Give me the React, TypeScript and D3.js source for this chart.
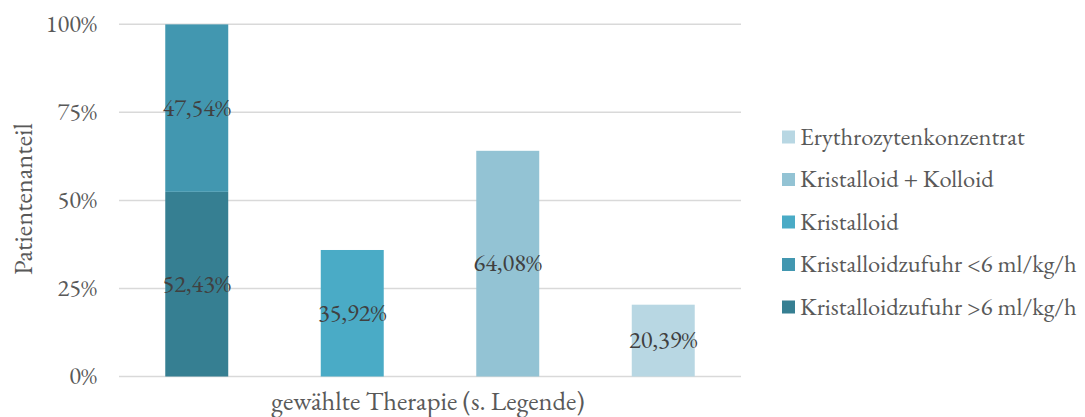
import React from "react";
import * as d3 from "d3";

// Patient share per chosen therapy (percent)
const categories = ["Kristalloidzufuhr", "Kristalloid", "Kristalloid + Kolloid", "Erythrozytenkonzentrat"];
const stackLow = [52.43, 0, 0, 0]; // Kristalloidzufuhr >6 ml/kg/h
const stackHigh = [47.54, 0, 0, 0]; // Kristalloidzufuhr <6 ml/kg/h
const singleValues = [0, 35.92, 64.08, 20.39];
const yTicks = [0, 25, 50, 75, 100];

const legendItems = [
  { label: "Erythrozytenkonzentrat", color: "#b8d7e3" },
  { label: "Kristalloid + Kolloid", color: "#93c3d4" },
  { label: "Kristalloid", color: "#4aabc6" },
  { label: "Kristalloidzufuhr <6 ml/kg/h", color: "#4297b0" },
  { label: "Kristalloidzufuhr >6 ml/kg/h", color: "#367f92" },
];
const singleColors = ["", "#4aabc6", "#93c3d4", "#b8d7e3"];

const W = 1085;
const H = 417;
const FONT = '"EB Garamond", "Liberation Serif", monospace';
const textStyle: React.CSSProperties = { fontFamily: FONT, fontSize: "24.5px" };
const titleStyle: React.CSSProperties = { fontFamily: FONT, fontSize: "26.5px" };

export default function App() {
  const x = d3.scaleBand<string>().domain(categories).range([119, 741]).paddingInner(0.595).paddingOuter(0.2975);
  const y = d3.scaleLinear().domain([0, 100]).range([376.5, 24.3]);
  const fmt = (v: number) => v.toFixed(2).replace(".", ",") + "%";
  const bw = x.bandwidth();

  return (
    <svg width={W} height={H} style={{ position: "absolute", left: 0, top: 0, background: "#fff" }}>
      {yTicks.map((t) => (
        <g key={t}>
          <line x1={119} x2={741} y1={y(t)} y2={y(t)} stroke="#d9d9d9" strokeWidth={1.5} />
          <text x={97} y={y(t)} dy="0.32em" textAnchor="end" style={textStyle} fill="#595959">
            {t}%
          </text>
        </g>
      ))}

      {categories.map((c, i) => {
        const x0 = x(c)!;
        const cx = x0 + bw / 2;
        if (stackLow[i] > 0) {
          const lowTop = y(stackLow[i]);
          const highTop = y(stackLow[i] + stackHigh[i]);
          return (
            <g key={c}>
              <rect x={x0} width={bw} y={lowTop} height={y(0) - lowTop} fill="#367f92" />
              <rect x={x0} width={bw} y={highTop} height={lowTop - highTop} fill="#4297b0" />
              <text x={cx} y={(lowTop + y(0)) / 2} dy="0.32em" textAnchor="middle" style={textStyle} fill="#404040">
                {fmt(stackLow[i])}
              </text>
              <text x={cx} y={(highTop + lowTop) / 2} dy="0.32em" textAnchor="middle" style={textStyle} fill="#404040">
                {fmt(stackHigh[i])}
              </text>
            </g>
          );
        }
        const top = y(singleValues[i]);
        return (
          <g key={c}>
            <rect x={x0} width={bw} y={top} height={y(0) - top} fill={singleColors[i]} />
            <text x={cx} y={(top + y(0)) / 2} dy="0.32em" textAnchor="middle" style={textStyle} fill="#404040">
              {fmt(singleValues[i])}
            </text>
          </g>
        );
      })}

      <text transform="translate(32,199) rotate(-90)" textAnchor="middle" style={titleStyle} fill="#595959">
        Patientenanteil
      </text>
      <text x={428} y={410} textAnchor="middle" style={titleStyle} fill="#595959">
        gewählte Therapie (s. Legende)
      </text>

      {legendItems.map((d, i) => {
        const cy = 137 + i * 42.5;
        return (
          <g key={d.label}>
            <rect x={782} y={cy - 6.5} width={13} height={13} fill={d.color} />
            <text x={800} y={cy} dy="0.32em" style={textStyle} fill="#595959">
              {d.label}
            </text>
          </g>
        );
      })}
    </svg>
  );
}
